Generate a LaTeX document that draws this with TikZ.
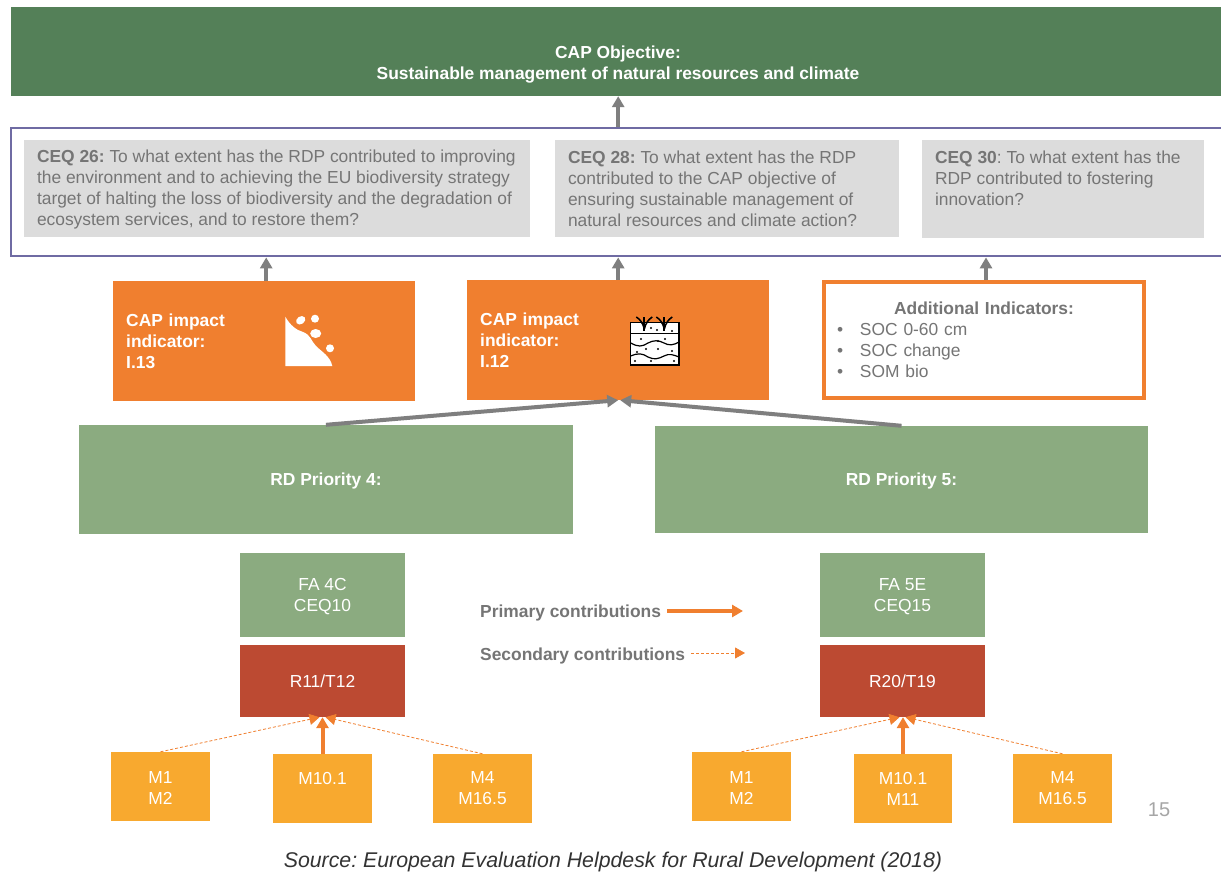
\documentclass[tikz,border=0pt]{standalone}
\usepackage{fontspec}
\setmainfont{Liberation Sans}
\usetikzlibrary{arrows.meta,calc}
\definecolor{topgreen}{HTML}{548058}
\definecolor{framepurple}{HTML}{6F6BA3}
\definecolor{greybox}{HTML}{DCDCDC}
\definecolor{txtgrey}{HTML}{757575}
\definecolor{capor}{HTML}{F07F2F}
\definecolor{prigreen}{HTML}{8BAB80}
\definecolor{resred}{HTML}{BC4A32}
\definecolor{measure}{HTML}{F8A92F}
\definecolor{arrgrey}{HTML}{7F7F7F}
\newcommand{\bx}[7]{\node[inner sep=0pt,#6,minimum width={(#4-#2)*1pt},minimum height={(#5-#3)*1pt}] (#1) at ({(#2+#4)/2},{(#3+#5)/2}) {#7};}
\newcommand{\hs}{\rule{0pt}{15.5pt}}
\tikzset{
  x=1pt,y=-1pt,
  base/.style={font=\fontsize{17.4}{21}\selectfont},
  topbox/.style={fill=topgreen},
  toptext/.style={text=white,align=center,inner sep=0pt,font=\fontsize{17.4}{21}\selectfont\bfseries},
  ceqbox/.style={base,fill=greybox,text=txtgrey,align=flush left,inner xsep=13pt},
  capbox/.style={fill=capor,text=white,align=left,font=\fontsize{17.4}{21}\selectfont\bfseries,inner xsep=13pt,inner ysep=0pt,anchor=west,minimum width=302pt,minimum height=120pt,text width=276pt},
  addbox/.style={base,draw=capor,line width=4pt,fill=white,text=txtgrey,align=left},
  pribox/.style={fill=prigreen,text=white,align=center,font=\fontsize{17.4}{21}\selectfont\bfseries},
  fabox/.style={base,fill=prigreen,text=white,align=center},
  resbox/.style={base,fill=resred,text=white,align=center},
  mbox/.style={base,fill=measure,text=white,align=center},
  greyarrow/.style={draw=arrgrey,line width=4pt,-{Triangle[length=11pt,width=12pt]}},
  mainarrow/.style={draw=capor,line width=4pt,-{Triangle[length=11pt,width=12pt]}},
  secarrow/.style={draw=capor,line width=0.8pt,densely dashed,-{Triangle[length=10pt,width=11pt]}},
  legend/.style={font=\fontsize{17.4}{21}\selectfont\bfseries,text=txtgrey,inner sep=0pt,anchor=west},
}
\begin{document}
\frenchspacing
\begin{tikzpicture}
\clip (0,0) rectangle (1221,872);
\fill[white] (0,0) rectangle (1221,872);
% frame and top
\bx{top}{11}{7}{1221}{96}{topbox}{}
\node[toptext] (toptxt) at (618,65) {CAP Objective:\\Sustainable management of natural resources and climate};
\node[draw=framepurple,line width=2.8pt,inner sep=0pt,minimum width=1219pt,minimum height=128pt] (frame) at (620.5,192) {};
\bx{ceqa}{24}{140}{530}{237}{ceqbox,text width=480pt}{\hs\textbf{CEQ 26:} To what extent has the RDP contributed to improving\\the environment and to achieving the EU biodiversity strategy\\target of halting the loss of biodiversity and the degradation of\\ecosystem services, and to restore them?}
\bx{ceqb}{555}{140}{899}{237}{ceqbox,text width=318pt}{\textbf{CEQ 28:} To what extent has the RDP\\contributed to the CAP objective of\\ensuring sustainable management of\\natural resources and climate action?}
\bx{ceqc}{922}{140}{1204}{238}{ceqbox,text width=256pt}{\textbf{CEQ 30}: To what extent has the\\RDP contributed to fostering\\innovation?\\\mbox{}}
% indicators
\node[capbox] (ia) at (113,341) {CAP impact\\indicator:\\I.13};
\node[capbox] (ib) at (467,340) {CAP impact\\indicator:\\I.12};
\node[addbox,inner sep=0pt,minimum width=320pt,minimum height=116pt,text width=294pt] (ic) at (984,340) {\makebox[294pt]{\textbf{Additional Indicators:}}\\\makebox[23pt][l]{•}SOC 0-60 cm\\\makebox[23pt][l]{•}SOC change\\\makebox[23pt][l]{•}SOM bio};
% landslide icon
\fill[white] (285.3,316.7) .. controls (290,325) and (296,330) .. (303,332) .. controls (311,335) and (311,341) .. (316,346) .. controls (322,352) and (330,356) .. (332.3,366) -- (285.3,366) -- cycle;
\fill[white,rotate around={35:(300.7,320.3)}] (300.7,320.3) ellipse (5pt and 3.8pt);
\fill[white] (315,318.7) ellipse (4pt and 4pt);
\fill[white] (315.7,333.5) ellipse (5.5pt and 4.5pt);
\fill[white] (330,348.3) ellipse (4pt and 4pt);
% soil icon
\draw[black,fill=white,line width=1.4pt] (630.7,322.3) rectangle (679,365);
\draw[black,line width=1.8pt] (630.7,333.5) -- (679,333.5);
\draw[black,line width=1.2pt] (630.7,343) .. controls (638,347) and (642,347) .. (648,343) .. controls (654,340) and (658,340) .. (664,343) .. controls (669,346) and (674,345) .. (679,342);
\draw[black,line width=1.2pt] (630.7,356) .. controls (638,353) and (642,353) .. (648,357) .. controls (654,360) and (658,359) .. (664,356) .. controls (669,353) and (674,355) .. (679,357);
\foreach \tx in {644.3,664.3}{
  \draw[black,line width=1.8pt] (\tx,331) -- (\tx,317);
  \draw[black,line width=1.5pt] (\tx,329) .. controls (\tx-1.5,323) and (\tx-4,319.5) .. (\tx-8,317);
  \draw[black,line width=1.5pt] (\tx,329) .. controls (\tx+1.5,323) and (\tx+4,319.5) .. (\tx+8,317);
}
\foreach \px/\py in {651/328,657/330,672/331,641/339,658/341,646/349,658/349,672/351,635/361,651/361,674/361,637/352,665/339}{
  \fill[black] (\px,\py) circle (1.2pt);
}
% priorities
\bx{pa}{79}{425}{573}{534}{pribox}{\hs RD Priority 4:}
\bx{pb}{655}{426}{1148}{533}{pribox}{\hs RD Priority 5:}
% focus areas
\bx{faa}{240}{553}{405}{637}{fabox}{\hs FA 4C\\CEQ10}
\bx{ra}{240}{645}{405}{717}{resbox}{R11/T12}
\bx{fab}{820}{553}{985}{637}{fabox}{\hs FA 5E\\CEQ15}
\bx{rb}{820}{645}{985}{717}{resbox}{R20/T19}
% measures
\bx{ma}{111}{752}{210}{821}{mbox}{\hs M1\\M2}
\bx{mb}{273}{754}{372}{823}{mbox}{M10.1\\\mbox{}}
\bx{mc}{433}{754}{532}{823}{mbox}{M4\\M16.5}
\bx{md}{692}{752}{791}{821}{mbox}{\hs M1\\M2}
\bx{me}{854}{754}{952}{823}{mbox}{M10.1\\M11}
\bx{mf}{1013}{754}{1112}{823}{mbox}{M4\\M16.5}
% grey connectors
\draw[greyarrow] (ib.north |- frame.north) -- (ib.north |- top.south);
\draw[greyarrow] ([xshift=2pt]ia.north) -- ([xshift=2pt]ia.north |- frame.south);
\draw[greyarrow] (ib.north) -- (ib.north |- frame.south);
\draw[greyarrow] ([xshift=2pt]ic.north) -- ([xshift=2pt]ic.north |- frame.south);
\draw[greyarrow] (pa.north) -- ([xshift=0pt]ib.south);
\draw[greyarrow] (pb.north) -- ([xshift=2pt]ib.south);
% orange connectors
\draw[secarrow] (ma.north) -- ([xshift=-3pt]ra.south);
\draw[secarrow] (mc.north) -- ([xshift=3pt]ra.south);
\draw[mainarrow] (mb.north) -- (mb.north |- ra.south);
\draw[secarrow] (md.north) -- ([xshift=-3pt]rb.south);
\draw[secarrow] (mf.north) -- ([xshift=3pt]rb.south);
\draw[mainarrow] (me.north) -- (me.north |- rb.south);
% legend
\node[legend] (lp) at (480,613) {Primary contributions};
\node[legend] (ls) at (480,656) {Secondary contributions};
\coordinate (lpe) at (743,611);
\coordinate (lse) at (745,653);
\draw[mainarrow,line width=3.4pt] ([xshift=6pt]lp.east |- lpe) -- (lpe);
\draw[secarrow] ([xshift=6pt]ls.east |- lse) -- (lse);
% page number and source
\node[font=\fontsize{20}{24}\selectfont,text=black!35,inner sep=0pt] (pg) at (1159,810) {15};
\node[font=\fontsize{21.3}{24}\selectfont\itshape,text=black!80,inner sep=0pt] (src) at (613,862) {Source: European Evaluation Helpdesk for Rural Development (2018)};
\end{tikzpicture}
\end{document}
